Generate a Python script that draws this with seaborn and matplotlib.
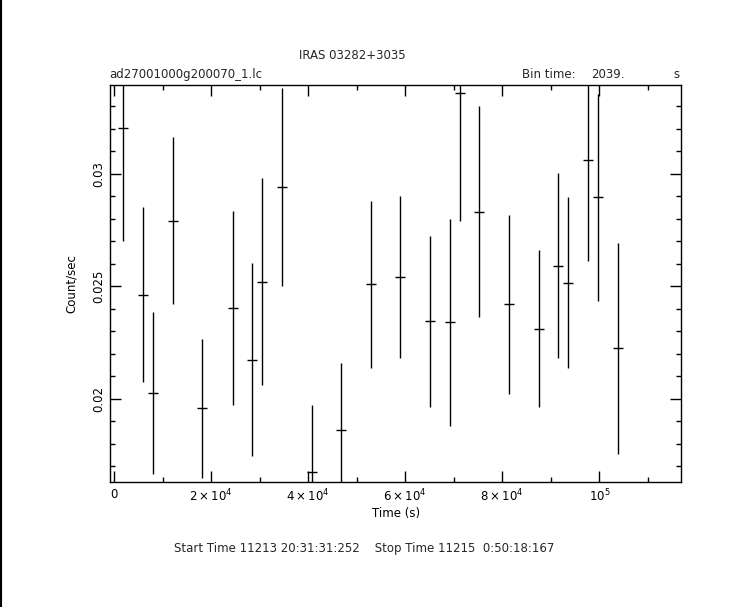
import numpy as np
import pandas as pd
import matplotlib
matplotlib.use("Agg")
import matplotlib.pyplot as plt
import seaborn as sns
from matplotlib.ticker import MultipleLocator, FixedLocator, FixedFormatter
from matplotlib.lines import Line2D

# light curve values
time_s = [1860, 5980, 8040, 12160, 18140, 24410, 28450, 30500, 34640, 40700,
          46800, 53000, 58970, 65150, 69300, 71300, 75260, 81440, 87600, 91550,
          93600, 97700, 99800, 103900]
rate = [0.03203, 0.02463, 0.02024, 0.02792, 0.01957, 0.02403, 0.02174, 0.02521,
        0.02941, 0.01673, 0.01859, 0.02508, 0.02543, 0.02344, 0.02339, 0.03359,
        0.02832, 0.02419, 0.02312, 0.02592, 0.02516, 0.03061, 0.02896, 0.02224]
rate_err = [0.0050, 0.0039, 0.0036, 0.0037, 0.0031, 0.0043, 0.0043, 0.0046,
            0.0044, 0.0030, 0.0030, 0.0037, 0.0036, 0.0038, 0.0046, 0.0057,
            0.0047, 0.0040, 0.0035, 0.0041, 0.0038, 0.0045, 0.0046, 0.0047]
bin_time = 2039.0

xtick_vals = [0, 20000, 40000, 60000, 80000, 100000]
xtick_labels = ["0", r"$2\times10^4$", r"$4\times10^4$", r"$6\times10^4$",
                r"$8\times10^4$", r"$10^5$"]
ytick_vals = [0.02, 0.025, 0.03]
ytick_labels = ["0.02", "0.025", "0.03"]

df = pd.DataFrame({"time": time_s, "rate": rate, "err": rate_err})

sns.set_theme(style="ticks")
plt.rcParams["font.family"] = ["DejaVu Sans"]
plt.rcParams["mathtext.fontset"] = "dejavusans"

fs = 8.5

fig = plt.figure(figsize=(7.43, 6.07), dpi=100)
fig.patch.set_facecolor("white")
ax = fig.add_axes([0.1487, 0.2059, 0.7679, 0.6546])
ax.set_facecolor("white")

ax.errorbar(df["time"], df["rate"], yerr=df["err"], xerr=bin_time / 2,
            fmt="none", ecolor="black", elinewidth=1.0, capsize=0)

ax.set_xlim(-780, 116850)
ax.set_ylim(0.01629, 0.03397)

ax.xaxis.set_major_locator(FixedLocator(xtick_vals))
ax.xaxis.set_major_formatter(FixedFormatter(xtick_labels))
ax.xaxis.set_minor_locator(MultipleLocator(10000))
ax.yaxis.set_major_locator(FixedLocator(ytick_vals))
ax.yaxis.set_major_formatter(FixedFormatter(ytick_labels))
ax.yaxis.set_minor_locator(MultipleLocator(0.001))

ax.tick_params(which="both", direction="in", top=True, right=True,
               color="black", width=1.0, labelsize=fs, labelcolor="black")
ax.tick_params(which="major", length=8, pad=4)
ax.tick_params(which="minor", length=3.5)
for lab in ax.get_yticklabels():
    lab.set_rotation(90)
    lab.set_va("center")
for sp in ax.spines.values():
    sp.set_color("black")
    sp.set_linewidth(1.0)

ax.set_xlabel("Time (s)", fontsize=fs, color="black", labelpad=2)
ax.set_ylabel("Count/sec", fontsize=fs, color="black", labelpad=10)

fig.text(0.4737, 0.909, "IRAS 03282+3035", ha="center", va="center", fontsize=fs)
fig.text(0.1467, 0.878, "ad27001000g200070_1.lc", ha="left", va="center", fontsize=fs)
fig.text(0.7026, 0.878, "Bin time:", ha="left", va="center", fontsize=fs)
fig.text(0.795, 0.878, "2039.", ha="left", va="center", fontsize=fs)
fig.text(0.911, 0.878, "s", ha="center", va="center", fontsize=fs)
fig.text(0.4905, 0.096, "Start Time 11213 20:31:31:252    Stop Time 11215  0:50:18:167",
         ha="center", va="center", fontsize=fs)

fig.add_artist(Line2D([0.001, 0.001], [0, 1], color="black", lw=1.5,
                      transform=fig.transFigure))

fig.savefig("out.png", dpi=100, facecolor="white")
